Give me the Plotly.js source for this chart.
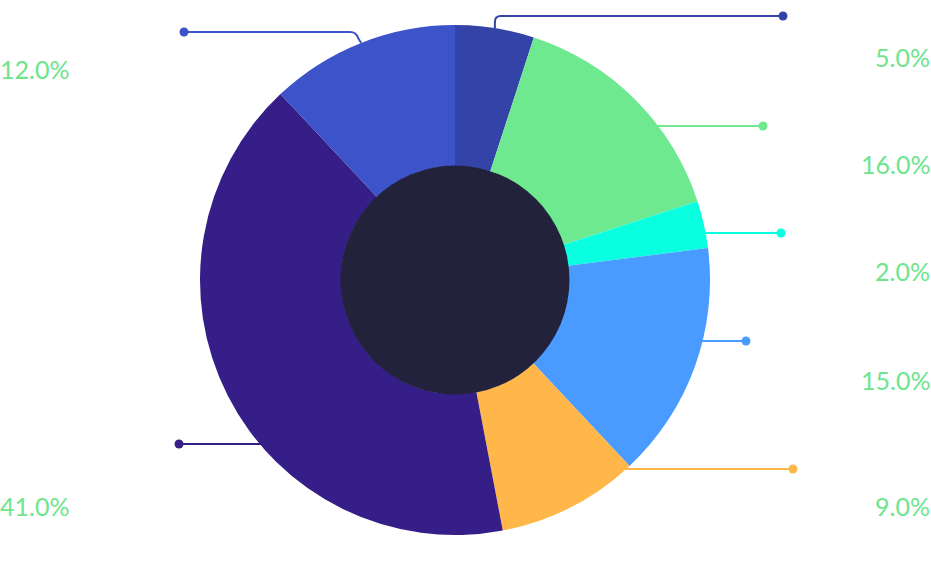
<!DOCTYPE html>
<html>
<head>
<meta charset="utf-8">
<script src="https://cdn.plot.ly/plotly-3.0.1.min.js"></script>
<style>html,body{margin:0;padding:0;background:#fff;}#chart{width:931px;height:579px;}</style>
</head>
<body>
<div id="chart"></div>
<script>
// ---- data ----
const categories = ['Segment A', 'Segment B', 'Segment C', 'Segment D', 'Segment E', 'Segment F', 'Segment G'];
const values = [5, 15, 3, 15, 9, 41, 12];
const valueLabels = ['5.0%', '16.0%', '2.0%', '15.0%', '9.0%', '41.0%', '12.0%'];

// ---- styles / layout ----
const colors = ['#3343a8', '#6ee98f', '#0affe0', '#4a9bff', '#ffb74a', '#351e87', '#3c53c9'];
const W = 931, H = 579;
const cx = 455, cy = 280, R = 255, holeR = 114;
const leaderRow = [16, 126, 233, 341, 469, 444, 32];
const dotX = [783, 763, 781, 746, 793, 179, 184];
const bendFromMid = [true, false, false, false, false, false, true];
const labelY = [57, 164, 271, 380, 506, 506, 69];
const labelSide = ['right', 'right', 'right', 'right', 'right', 'left', 'left'];
const textColor = '#6ee48d';

const total = values.reduce((a, b) => a + b, 0);
let cum = 0;
const shapes = [];
const annotations = [];
values.forEach((v, i) => {
  const mid = (cum + v / 2) / total * 2 * Math.PI;
  cum += v;
  const row = leaderRow[i];
  const dir = dotX[i] > cx ? 1 : -1;
  let path;
  if (bendFromMid[i]) {
    const ax = cx + R * Math.sin(mid);
    const ay = cy - R * Math.cos(mid);
    const r = 6;
    if (dir > 0) {
      path = `M ${ax},${ay} L ${ax},${row + r} Q ${ax},${row} ${ax + r},${row} L ${dotX[i]},${row}`;
    } else {
      path = `M ${ax},${ay} L ${ax - 3},${row + r} Q ${ax - 5},${row} ${ax - 5 - r},${row} L ${dotX[i]},${row}`;
    }
  } else {
    const ex = cx + dir * Math.sqrt(R * R - (row - cy) * (row - cy));
    path = `M ${ex - dir * 2},${row} L ${dotX[i]},${row}`;
  }
  shapes.push({type: 'path', xref: 'x', yref: 'y', path: path, line: {color: colors[i], width: 2}, layer: 'above'});
  const right = labelSide[i] === 'right';
  annotations.push({
    xref: 'x', yref: 'y',
    x: right ? W : 0,
    xshift: right ? 1 : -2,
    y: labelY[i],
    xanchor: right ? 'right' : 'left',
    yanchor: 'middle',
    text: valueLabels[i],
    showarrow: false,
    font: {family: 'Lato, sans-serif', size: 25, color: textColor}
  });
});
// center disc
shapes.push({type: 'circle', xref: 'x', yref: 'y', x0: cx - holeR - 0.5, x1: cx + holeR + 0.5, y0: cy - holeR - 0.5, y1: cy + holeR + 0.5,
  fillcolor: '#22223c', line: {width: 0}, layer: 'above'});

const pie = {
  type: 'pie',
  labels: categories,
  values: values,
  sort: false,
  direction: 'clockwise',
  rotation: 0,
  hole: holeR / R,
  textinfo: 'none',
  hoverinfo: 'none',
  marker: {colors: colors, line: {width: 0}},
  domain: {x: [(cx - R) / W, (cx + R) / W], y: [(H - cy - R) / H, (H - cy + R) / H]},
  showlegend: false
};

const dots = {
  type: 'scatter',
  mode: 'markers',
  x: dotX,
  y: leaderRow,
  marker: {color: colors, size: 9},
  hoverinfo: 'skip',
  showlegend: false
};

const layout = {
  width: W, height: H,
  margin: {l: 0, r: 0, t: 0, b: 0},
  paper_bgcolor: '#ffffff',
  plot_bgcolor: 'rgba(0,0,0,0)',
  xaxis: {range: [0, W], visible: false, fixedrange: true, domain: [0, 1]},
  yaxis: {range: [H, 0], visible: false, fixedrange: true, domain: [0, 1]},
  shapes: shapes,
  annotations: annotations,
  showlegend: false
};

Plotly.newPlot('chart', [pie, dots], layout, {displayModeBar: false, staticPlot: true});
</script>
</body>
</html>
